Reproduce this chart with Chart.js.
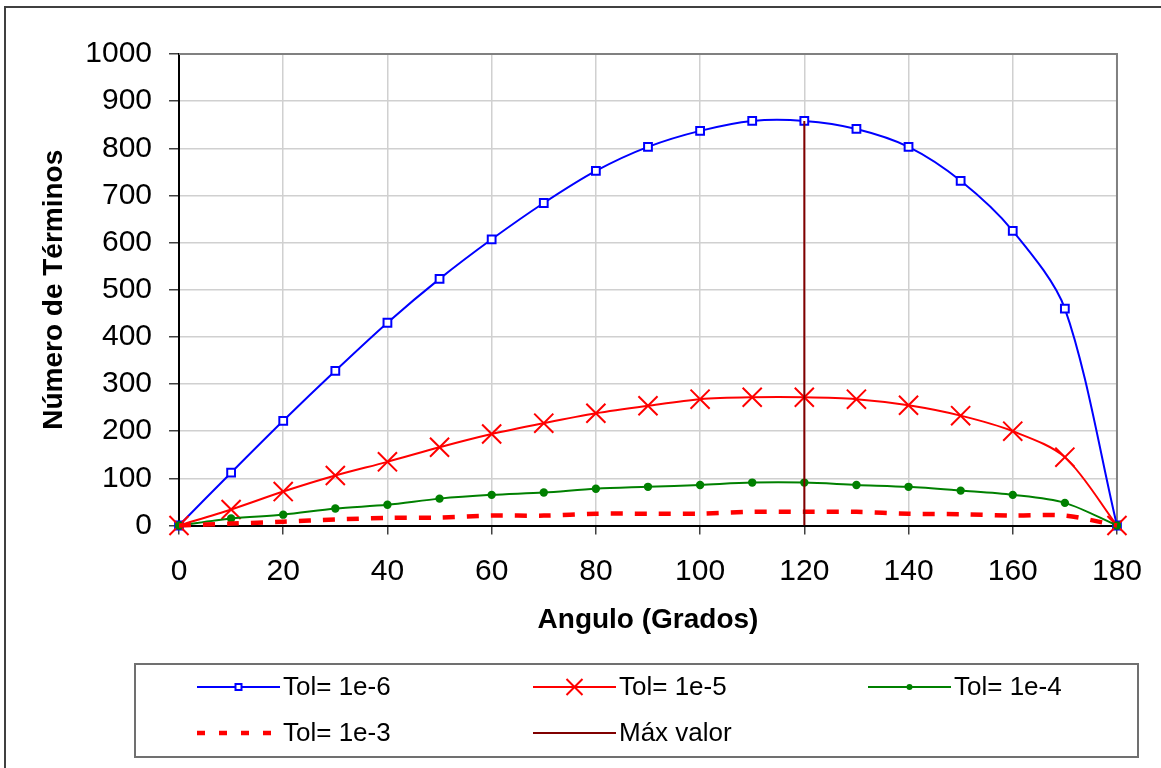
<!DOCTYPE html>
<html>
<head>
<meta charset="utf-8">
<script src="https://cdn.jsdelivr.net/npm/chart.js@4/dist/chart.umd.min.js"></script>
<style>
  html, body { margin: 0; padding: 0; background: #fff; overflow: hidden; }
  canvas { display: block; }
</style>
</head>
<body>
<canvas id="grafico" width="1161" height="768"></canvas>
<script>
// valeurs (un point tous les 10 degrés)
const angulos = [0, 10, 20, 30, 40, 50, 60, 70, 80, 90, 100, 110, 120, 130, 140, 150, 160, 170, 180];
const tol6 = [0, 112, 222, 328, 430, 523, 607, 684, 752, 803, 837, 858, 858, 841, 803, 731, 625, 460, 0];
const tol5 = [0, 34, 72, 106, 135, 166, 194, 217, 238, 254, 268, 272, 272, 268, 255, 233, 200, 145, 0];
const tol4 = [0, 15, 23, 36, 44, 57, 65, 70, 78, 82, 86, 91, 91, 86, 82, 74, 65, 48, 0];
const tol3 = [0, 4, 8, 13, 16, 17, 21, 21, 25, 25, 25, 29, 29, 29, 25, 24, 21, 21, 0];
// ligne verticale du maximum
const maxAngulo = 120;
const maxValor = 858;
// graduations des axes
const xTicks = [0, 20, 40, 60, 80, 100, 120, 140, 160, 180];
const yTicks = [0, 100, 200, 300, 400, 500, 600, 700, 800, 900, 1000];
const etiquetas = ["Tol= 1e-6", "Tol= 1e-5", "Tol= 1e-4", "Tol= 1e-3", "Máx valor"];

const FONT = "'Liberation Sans', Arial, sans-serif";

function puntos(valores) {
  return angulos.map((a, i) => ({ x: a, y: valores[i] }));
}

/* cadre du graphique + boîte de légende (dessinés à la main) */
const cadrePlugin = {
  id: "cadre",
  beforeDatasetsDraw(chart) {
    const { ctx, chartArea: a } = chart;
    ctx.save();
    ctx.strokeStyle = "#808080";
    ctx.lineWidth = 2;
    ctx.beginPath();
    ctx.moveTo(a.left, a.top);
    ctx.lineTo(a.right, a.top);
    ctx.lineTo(a.right, a.bottom);
    ctx.stroke();
    ctx.restore();
  },
  afterDraw(chart) {
    const ctx = chart.ctx;
    ctx.save();
    // bordure extérieure
    ctx.strokeStyle = "#404040";
    ctx.lineWidth = 2;
    ctx.beginPath();
    ctx.moveTo(5, 800);
    ctx.lineTo(5, 7);
    ctx.lineTo(1200, 7);
    ctx.stroke();

    // boîte de légende
    ctx.strokeStyle = "#707070";
    ctx.lineWidth = 2;
    ctx.strokeRect(135, 664, 1003, 93);

    const items = [
      { x: 197, y: 687 }, { x: 533, y: 687 }, { x: 868, y: 687 },
      { x: 197, y: 733 }, { x: 533, y: 733 }
    ];
    items.forEach((it, i) => {
      const d = chart.data.datasets[i];
      ctx.strokeStyle = d.borderColor;
      ctx.lineWidth = d.borderWidth;
      ctx.setLineDash(i === 3 ? [8, 14] : []);
      ctx.beginPath();
      ctx.moveTo(it.x, it.y);
      ctx.lineTo(it.x + 83, it.y);
      ctx.stroke();
      ctx.setLineDash([]);

      const cx = it.x + 41.5;
      ctx.lineWidth = 2;
      if (i === 0) {
        ctx.fillStyle = "#fff";
        ctx.fillRect(cx - 3, it.y - 3, 6, 6);
        ctx.strokeRect(cx - 3, it.y - 3, 6, 6);
      } else if (i === 1) {
        ctx.beginPath();
        ctx.moveTo(cx - 8, it.y - 8); ctx.lineTo(cx + 8, it.y + 8);
        ctx.moveTo(cx - 8, it.y + 8); ctx.lineTo(cx + 8, it.y - 8);
        ctx.stroke();
      } else if (i === 2) {
        ctx.fillStyle = d.borderColor;
        ctx.beginPath();
        ctx.arc(cx, it.y, 3, 0, Math.PI * 2);
        ctx.fill();
      }

      ctx.fillStyle = "#000";
      ctx.font = "26px " + FONT;
      ctx.textBaseline = "middle";
      ctx.fillText(etiquetas[i], it.x + 86, it.y + 1);
    });
    ctx.restore();
  }
};

new Chart(document.getElementById("grafico"), {
  type: "line",
  data: {
    datasets: [
      {
        label: etiquetas[0],
        data: puntos(tol6),
        borderColor: "#0000FF",
        borderWidth: 2,
        tension: 0.3,
        pointStyle: "rect",
        pointRadius: 5.5,
        pointBorderWidth: 2,
        pointBorderColor: "#0000FF",
        pointBackgroundColor: "#FFFFFF",
        clip: false,
        order: 4
      },
      {
        label: etiquetas[1],
        data: puntos(tol5),
        borderColor: "#FF0000",
        borderWidth: 2,
        tension: 0.3,
        pointStyle: "crossRot",
        pointRadius: 13.5,
        pointBorderWidth: 2,
        pointBorderColor: "#FF0000",
        clip: false,
        order: 3
      },
      {
        label: etiquetas[2],
        data: puntos(tol4),
        borderColor: "#008000",
        borderWidth: 2,
        tension: 0.3,
        pointStyle: "circle",
        pointRadius: 4.2,
        pointBorderWidth: 0,
        pointBackgroundColor: "#008000",
        pointBorderColor: "#008000",
        clip: false,
        order: 2
      },
      {
        label: etiquetas[3],
        data: puntos(tol3),
        borderColor: "#FF0000",
        borderWidth: 4.5,
        borderDash: [12, 12],
        tension: 0.3,
        pointRadius: 0,
        clip: false,
        order: 1
      },
      {
        label: etiquetas[4],
        data: [{ x: maxAngulo, y: 0 }, { x: maxAngulo, y: maxValor }],
        borderColor: "#800000",
        borderWidth: 2,
        pointRadius: 0,
        order: 0
      }
    ]
  },
  options: {
    responsive: false,
    animation: false,
    devicePixelRatio: 1,
    layout: { padding: { left: 0, top: 54, right: 43, bottom: 108 } },
    plugins: {
      legend: { display: false },
      tooltip: { enabled: false }
    },
    scales: {
      x: {
        type: "linear",
        min: 0,
        max: 180,
        afterBuildTicks: s => { s.ticks = xTicks.map(v => ({ value: v })); },
        afterFit: s => { s.height = 134.5; },
        ticks: {
          font: { family: FONT, size: 30 },
          color: "#000",
          padding: 19,
          maxRotation: 0,
          autoSkip: false,
          callback: v => String(v)
        },
        grid: {
          color: "#d0d0d0",
          lineWidth: 1.5,
          tickLength: 9,
          tickColor: "#404040",
          tickWidth: 1.5
        },
        border: { color: "#000", width: 2 },
        title: {
          display: true,
          text: "Angulo (Grados)",
          color: "#000",
          font: { family: FONT, size: 28, weight: "bold" },
          padding: { top: 0, bottom: 23 }
        }
      },
      y: {
        min: 0,
        max: 1000,
        afterBuildTicks: s => { s.ticks = yTicks.map(v => ({ value: v })); },
        afterFit: s => { s.width = 179; },
        ticks: {
          font: { family: FONT, size: 30 },
          color: "#000",
          padding: 17,
          callback: v => String(v)
        },
        grid: {
          color: "#d0d0d0",
          lineWidth: 1.5,
          tickLength: 10,
          tickColor: "#404040",
          tickWidth: 1.5
        },
        border: { color: "#000", width: 2 },
        title: {
          display: true,
          text: "Número de Términos",
          color: "#000",
          font: { family: FONT, size: 28, weight: "bold" },
          padding: { top: 37, bottom: 0 }
        }
      }
    }
  },
  plugins: [cadrePlugin]
});
</script>
</body>
</html>
